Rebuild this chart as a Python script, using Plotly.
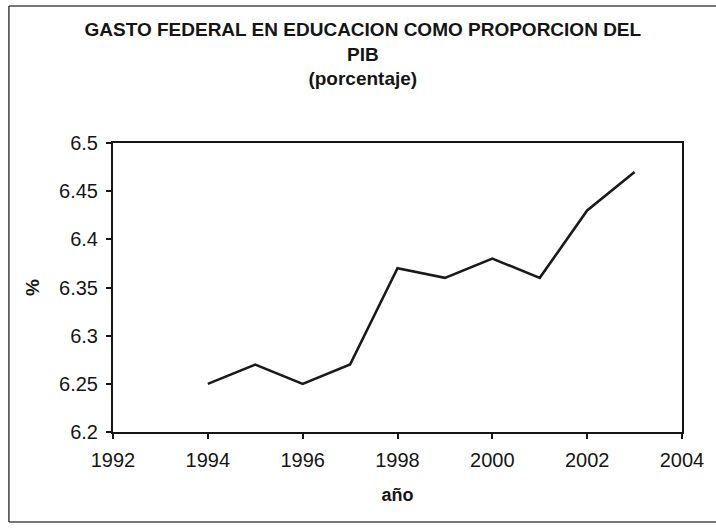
import plotly.graph_objects as go

# Federal education spending as share of GDP
years = [1994, 1995, 1996, 1997, 1998, 1999, 2000, 2001, 2002, 2003]
gasto_pib = [6.25, 6.27, 6.25, 6.27, 6.37, 6.36, 6.38, 6.36, 6.43, 6.47]

x_ticks = [1992, 1994, 1996, 1998, 2000, 2002, 2004]
y_ticks = [6.2, 6.25, 6.3, 6.35, 6.4, 6.45, 6.5]
y_tick_labels = ["6.2", "6.25", "6.3", "6.35", "6.4", "6.45", "6.5"]

W, H = 716, 529
L, R, T, B = 113, 29, 143, 97
pw, ph = W - L - R, H - T - B

FONT = "Liberation Sans, Arial, sans-serif"
INK = "#151515"


def px_x(x):
    return (x - L) / pw


def px_y(y):
    return 1 - (y - T) / ph


fig = go.Figure()
fig.add_trace(go.Scatter(
    x=years, y=gasto_pib, mode="lines",
    line=dict(color="#1a1a1a", width=2.6),
    showlegend=False, hoverinfo="x+y",
))

# outer chart frame
frame = dict(type="line", xref="paper", yref="paper",
             line=dict(color="#4a4a4a", width=1.6))
fig.add_shape(**frame, x0=px_x(8), x1=px_x(8), y0=px_y(6), y1=px_y(522))
fig.add_shape(**frame, x0=px_x(8), x1=px_x(730), y0=px_y(6), y1=px_y(6))
fig.add_shape(**frame, x0=px_x(8), x1=px_x(730), y0=px_y(522), y1=px_y(522))

fig.update_layout(
    width=W, height=H,
    margin=dict(l=L, r=R, t=T, b=B),
    paper_bgcolor="white", plot_bgcolor="white",
    font=dict(family=FONT, color=INK, size=18),
    title=dict(
        text="<b>GASTO FEDERAL EN EDUCACION COMO PROPORCION DEL<br>PIB<br>(porcentaje)</b>",
        x=(365 - L) / pw, xanchor="center", xref="paper",
        y=1 - 36 / H, yanchor="top", yref="container",
        font=dict(family=FONT, size=19, color=INK),
    ),
)

fig.update_xaxes(
    range=[1992, 2004], tickvals=x_ticks,
    ticks="outside", ticklen=5, tickwidth=1.5, tickcolor=INK,
    showline=True, linecolor=INK, linewidth=2, mirror=True,
    showgrid=False, zeroline=False, ticklabelstandoff=4,
    tickfont=dict(size=20, family=FONT, color=INK),
    title=dict(text="<b>año</b>", font=dict(size=18, family=FONT, color=INK), standoff=18),
)
fig.update_yaxes(
    range=[6.2, 6.5], tickvals=y_ticks, ticktext=y_tick_labels,
    ticks="outside", ticklen=5, tickwidth=1.5, tickcolor=INK,
    showline=True, linecolor=INK, linewidth=2, mirror=True,
    showgrid=False, zeroline=False, ticklabelstandoff=4,
    tickfont=dict(size=20, family=FONT, color=INK),
    title=dict(text="<b>%</b>", font=dict(size=19, family=FONT, color=INK), standoff=14),
)

fig.write_html("out.html")
